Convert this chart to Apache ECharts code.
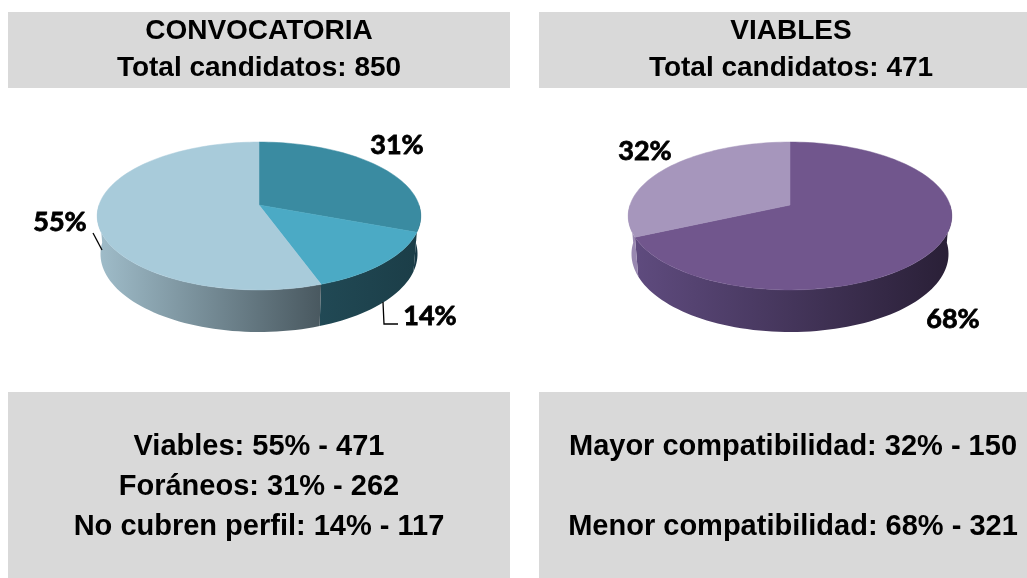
<!DOCTYPE html>
<html>
<head>
<meta charset="utf-8">
<script src="https://cdn.jsdelivr.net/npm/echarts@6/dist/echarts.min.js"></script>
<style>
html,body{margin:0;padding:0;background:#fff;}
#chart{width:1027px;height:578px;}
</style>
</head>
<body>
<div id="chart"></div>
<script>
// ---------- DATA ----------
const leftTitle = 'CONVOCATORIA';
const rightTitle = 'VIABLES';
const totalLabel = 'Total candidatos';
// pie 1, clockwise from 12 o'clock
const pie1Names = ['Foráneos', 'No cubren perfil', 'Viables'];
const pie1Values = [262, 117, 471];
const pie1Pct = [31, 14, 55];
// order of lines in the bottom-left box
const pie1TextOrder = ['Viables', 'Foráneos', 'No cubren perfil'];
// pie 2, clockwise from 12 o'clock
const pie2Names = ['Menor compatibilidad', 'Mayor compatibilidad'];
const pie2Values = [321, 150];
const pie2Pct = [68, 32];
const pie2TextOrder = ['Mayor compatibilidad', '', 'Menor compatibilidad'];

// ---------- LAYOUT / STYLE ----------
const PROJ = { D: 6, F: 960, s: 0.452, c: 0.892, h: 0.269 };
const pie1Style = {
  cx: 259, cy: 205,
  top: ['#3A8BA1', '#4BAAC5', '#A8CBDA'],
  wall: [['#246070', '#173845'], ['#2E6373', '#1B3D47'], ['#A0BDCA', '#222B30']],
  label: [[138, -60], [171, 111], [-199, 17]],
  leader: [null, [[139, 119], [125, 119], [124, 97]], [[-166, 28], [-157, 45]]]
};
const pie2Style = {
  cx: 790, cy: 205,
  top: ['#71568D', '#A696BC'],
  wall: [['#604C80', '#291F36'], ['#9A89B2', '#4D4060']],
  label: [[163, 114], [-145, -54]],
  leader: [null, null]
};
const boxFill = '#D9D9D9';
const titleFont = 'bold 28px "Liberation Sans", Arial, sans-serif';
const bodyFont = 'bold 29px "Liberation Sans", Arial, sans-serif';
const pctFont = 'bold 27px Lato, "Open Sans", sans-serif';

function proj(cx, cy, deg, r, Y) {
  const t = deg * Math.PI / 180;
  const X = r * Math.sin(t), Z = -r * Math.cos(t);
  const depth = PROJ.D - Y * PROJ.s - Z * PROJ.c;
  return [cx + X * PROJ.F / depth, cy + (Z * PROJ.s - Y * PROJ.c) * PROJ.F / depth];
}
function arc(cx, cy, a0, a1, Y) {
  const pts = [];
  const n = Math.max(8, Math.ceil(Math.abs(a1 - a0) / 2));
  for (let i = 0; i <= n; i++) pts.push(proj(cx, cy, a0 + (a1 - a0) * i / n, 1, Y));
  return pts;
}

function makeRender(values, pct, st) {
  const total = values.reduce((a, b) => a + b, 0);
  const starts = [];
  let acc = 0;
  values.forEach(v => { starts.push(acc / total * 360); acc += v; });
  return function (params, api) {
    const i = params.dataIndex;
    const v = api.value(0);
    const a0 = starts[i], a1 = a0 + v / total * 360;
    const { cx, cy } = st;
    const children = [];
    // outer wall (front half)
    const lo = Math.max(a0, 90), hi = Math.min(a1, 270);
    if (hi > lo) {
      const pts = arc(cx, cy, lo, hi, 0).concat(arc(cx, cy, hi, lo, -PROJ.h));
      children.push({
        type: 'polygon', z2: 1,
        shape: { points: pts },
        style: {
          fill: new echarts.graphic.LinearGradient(cx - 162, 0, cx + 162, 0,
            [{ offset: 0, color: st.wall[i][0] }, { offset: 1, color: st.wall[i][1] }], true),
          stroke: null
        }
      });
    }
    // top face
    const topPts = [[cx, cy]].concat(arc(cx, cy, a0, a1, 0));
    children.push({
      type: 'polygon', z2: 2,
      shape: { points: topPts },
      style: { fill: st.top[i], stroke: st.top[i], lineWidth: 0.5 }
    });
    // label
    children.push({
      type: 'text', z2: 3,
      style: {
        text: pct[i] + '%', x: cx + st.label[i][0], y: cy + st.label[i][1],
        font: pctFont, fill: '#000', stroke: '#000', lineWidth: 0.8,
        textAlign: 'center', textVerticalAlign: 'middle', align: 'center', verticalAlign: 'middle'
      }
    });
    if (st.leader[i]) {
      children.push({
        type: 'polyline', z2: 3,
        shape: { points: st.leader[i].map(p => [cx + p[0], cy + p[1]]) },
        style: { stroke: '#000', lineWidth: 1.3, fill: null }
      });
    }
    return { type: 'group', children };
  };
}

const total1 = pie1Values.reduce((a, b) => a + b, 0);
const total2 = pie2Values.reduce((a, b) => a + b, 0);
function lineFor(names, values, pct, name) {
  if (!name) return '';
  const k = names.indexOf(name);
  return name + ': ' + pct[k] + '% - ' + values[k];
}

const graphic = [
  { type: 'rect', shape: { x: 8, y: 12, width: 502, height: 76 }, style: { fill: boxFill }, z: 0 },
  { type: 'rect', shape: { x: 539, y: 12, width: 504, height: 76 }, style: { fill: boxFill }, z: 0 },
  { type: 'rect', shape: { x: 8, y: 392, width: 502, height: 190 }, style: { fill: boxFill }, z: 0 },
  { type: 'rect', shape: { x: 539, y: 392, width: 504, height: 190 }, style: { fill: boxFill }, z: 0 }
];
function addText(text, x, y, font) {
  graphic.push({
    type: 'text', z: 1,
    style: { text, x, y, font, fill: '#000', textAlign: 'center', textVerticalAlign: 'middle', align: 'center', verticalAlign: 'middle' }
  });
}
addText(leftTitle, 259, 31, titleFont);
addText(totalLabel + ': ' + total1, 259, 68, titleFont);
addText(rightTitle, 791, 31, titleFont);
addText(totalLabel + ': ' + total2, 791, 68, titleFont);
pie1TextOrder.forEach((n, k) => addText(lineFor(pie1Names, pie1Values, pie1Pct, n), 259, 447 + k * 40, bodyFont));
pie2TextOrder.forEach((n, k) => { if (n) addText(lineFor(pie2Names, pie2Values, pie2Pct, n), 793, 447 + k * 40, bodyFont); });

const chart = echarts.init(document.getElementById('chart'), null, { renderer: 'canvas' });
chart.setOption({
  animation: false,
  backgroundColor: '#fff',
  graphic,
  series: [
    {
      type: 'custom', coordinateSystem: 'none', silent: true,
      data: pie1Values.map((v, i) => ({ name: pie1Names[i], value: [v] })),
      renderItem: makeRender(pie1Values, pie1Pct, pie1Style)
    },
    {
      type: 'custom', coordinateSystem: 'none', silent: true,
      data: pie2Values.map((v, i) => ({ name: pie2Names[i], value: [v] })),
      renderItem: makeRender(pie2Values, pie2Pct, pie2Style)
    }
  ]
});
</script>
</body>
</html>
